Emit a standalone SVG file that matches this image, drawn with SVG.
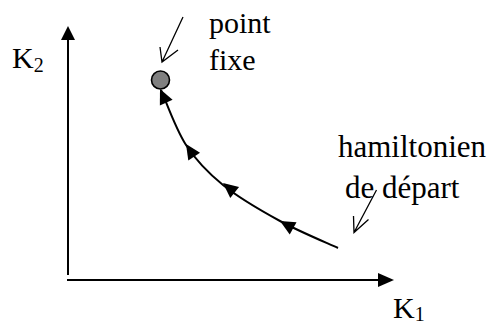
<svg xmlns="http://www.w3.org/2000/svg" xmlns:xlink="http://www.w3.org/1999/xlink" width="490" height="325" viewBox="0 0 490 325">
<style>
  text { font-family: "Liberation Serif", "Times New Roman", Times, "DejaVu Serif", serif; fill: #000; }
  .big { font-size: 31px; }
  .lbl { font-size: 30px; }
  .sub { font-size: 20px; }
  .ax { stroke: #000; stroke-width: 2; fill: none; }
  .cv { stroke: #000; stroke-width: 2; fill: none; }
  .thin { stroke: #000; stroke-width: 1.3; fill: none; }
</style>
<defs>
  <path id="ah" d="M0,0 L-15,-7 L-15,7 Z" fill="#000"/>
</defs>
<rect width="490" height="325" fill="#fff"/>

<g id="axes">
  <line class="ax" x1="68" y1="38" x2="68" y2="275"/>
  <path d="M68,26 L61,40 L75,40 Z" fill="#000"/>
  <line class="ax" x1="67" y1="280" x2="380" y2="280"/>
  <path d="M394,280 L378,273 L378,287 Z" fill="#000"/>
  <text class="lbl" x="12" y="68">K<tspan class="sub" dy="4">2</tspan></text>
  <text class="lbl" x="393" y="318">K<tspan class="sub" dy="3">1</tspan></text>
</g>

<g id="fixed-point">
  <circle cx="160.5" cy="80" r="9" fill="#808080" stroke="#000" stroke-width="1.6"/>
  <text class="lbl" x="209" y="33">point</text>
  <text class="lbl" x="209" y="70">fixe</text>
</g>

<g id="start-label">
  <text class="big" x="338" y="157">hamiltonien</text>
  <text class="big" x="345" y="198">de départ</text>
</g>

<g id="connectors">
  <path class="cv" d="M338,248 C328.3,243.5 299.2,231.5 280,221 C260.8,210.5 238.7,197.7 223,185 C207.3,172.3 196.3,160.8 186,145 C175.7,129.2 165.2,99.2 161,90"/>
  <use xlink:href="#ah" href="#ah" transform="translate(160,89) rotate(-114.5)"/>
  <use xlink:href="#ah" href="#ah" transform="translate(186,144) rotate(-123)"/>
  <use xlink:href="#ah" href="#ah" transform="translate(223,183) rotate(-141)"/>
  <use xlink:href="#ah" href="#ah" transform="translate(280,221) rotate(-151)"/>
  <path class="thin" d="M183,17 L162,62 M160,47 L162,62 L178,50"/>
  <path class="thin" d="M376.5,190 L354,232.5 M353.5,216 L354,232.5 L368.5,219.5"/>
</g>
</svg>
